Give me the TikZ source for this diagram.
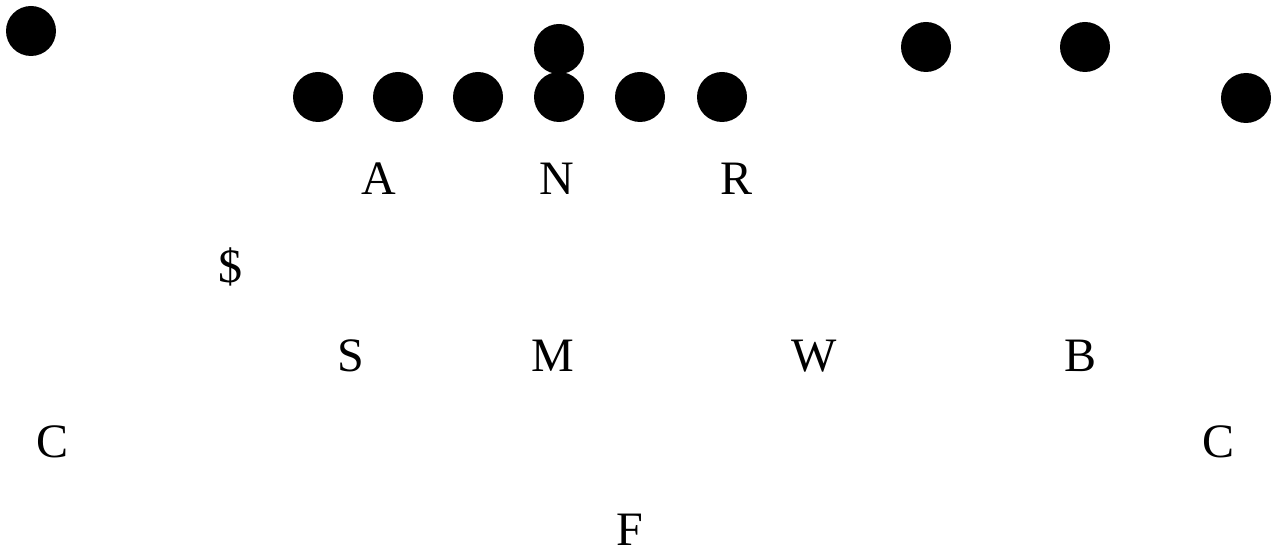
\documentclass[tikz,border=0pt]{standalone}
\usepackage{fontspec}
\setmainfont{Liberation Serif}
\usepackage{tikz}
\usetikzlibrary{positioning}

\tikzset{
  player/.style={circle, fill=black, inner sep=0pt, minimum size=50pt},
  defender/.style={anchor=base, inner sep=0pt, font=\fontsize{48}{58}\selectfont}
}

\begin{document}
\begin{tikzpicture}[x=1pt, y=-1pt]
  \useasboundingbox (0,0) rectangle (1282,553);
  % Offense
  \node[player] (corner) at (31,31) {};
  \foreach \x/\name in {318/lt, 398/lg, 478/lc, 559/ctr, 640/rg, 722/rt}
    \node[player] (\name) at (\x,97) {};
  \node[player] (qb) at (559,49) {};
  \node[player] (wr1) at (926,47) {};
  \node[player] (wr2) at (1085,47) {};
  \node[player] (wr3) at (1246,98) {};
  % Defensive front
  \foreach \x/\lbl/\name in {379/A/a, 557/N/n, 736/R/r}
    \node[defender] (\name) at (\x,195) {\lbl};
  \node[defender] (dollar) at (230,283) {\$};
  % Linebackers
  \foreach \x/\lbl/\name in {351/S/s, 553/M/m, 814/W/w, 1080/B/b}
    \node[defender] (\name) at (\x,371) {\lbl};
  % Secondary
  \node[defender] (cl) at (53,457) {C};
  \node[defender] (cr) at (1218,457) {C};
  \node[defender] (f) at (630,545) {F};
\end{tikzpicture}
\end{document}
